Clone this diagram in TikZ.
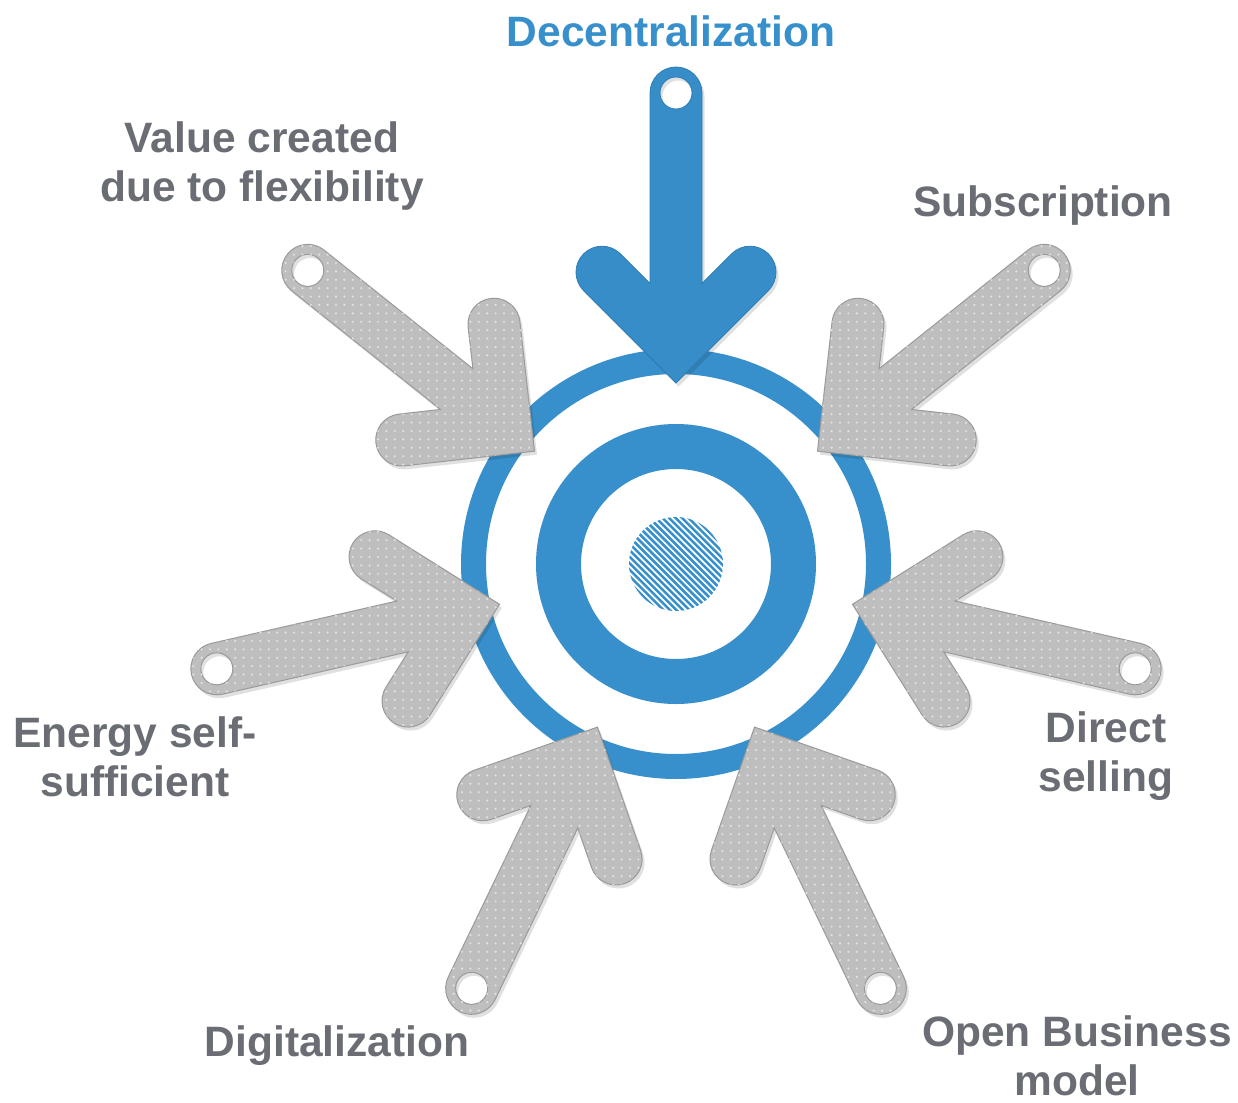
\documentclass[tikz,border=0pt]{standalone}
\usepackage{fontspec}
\setmainfont{Liberation Sans}
\usetikzlibrary{patterns.meta}
\definecolor{ringblue}{HTML}{3790CB}
\definecolor{arrowblue}{HTML}{368DC8}
\definecolor{blueedge}{HTML}{2E7DB5}
\definecolor{arrowgray}{HTML}{BEBEBE}
\definecolor{edgegray}{HTML}{9A9A9A}
\definecolor{dotgray}{HTML}{E2E2E2}
\definecolor{labelgray}{HTML}{6A6D73}
\tikzset{
  % tag-shaped arrow: tip at the origin, tail with a hole 290 units back along +x
  tagarrow/.style={insert path={(0,0) -- (92.4,92.4)
      arc[start angle=135,end angle=-45,radius=26] -- (99.5,26) -- (290,26)
      arc[start angle=90,end angle=-90,radius=26] -- (99.5,-26) -- (129.2,-55.6)
      arc[start angle=45,end angle=-135,radius=26] -- cycle
      (290,0) circle[radius=16]}},
  graytag/.style={fill=arrowgray, draw=edgegray, line width=0.5pt, even odd rule,
      postaction={pattern={Dots[distance=4.2pt,radius=0.6pt]}, pattern color=dotgray}},
  bluetag/.style={fill=arrowblue, draw=blueedge, line width=0.4pt, even odd rule},
  tagshadow/.style={fill=black, fill opacity=0.12, even odd rule},
  lab/.style={font=\fontsize{21.25}{24.5}\selectfont\bfseries, text=labelgray,
      align=center, inner sep=0pt, anchor=north},
}
% one arrow pointing at the centre from direction #1, drawn in style #2
\newcommand\tagat[2]{%
  \begin{scope}[shift={(678.5,-567.5)}, rotate=#1, shift={(181,0)}]
    \path[tagshadow, tagarrow];
  \end{scope}
  \begin{scope}[shift={(676,-564)}, rotate=#1, shift={(181,0)}]
    \path[#2, tagarrow];
  \end{scope}}
\begin{document}
\begin{tikzpicture}[x=0.5pt, y=0.5pt]
  \useasboundingbox (0,0) rectangle (1238,-1103);
  \fill[white] (0,0) rectangle (1238,-1103);
  \coordinate (c) at (676,-564);

  % target rings
  \draw[ringblue, line width=12.5pt] (c) circle[radius=202.5];
  \draw[ringblue, line width=22.5pt] (c) circle[radius=117.5];

  % hatched bullseye
  \begin{scope}
    \clip (c) circle[radius=47];
    \begin{scope}[shift={(c)}, rotate=-45]
      \foreach \k in {-12,...,12}
        \draw[ringblue, line width=1.25pt] (-60,\k*4.6) -- (60,\k*4.6);
    \end{scope}
  \end{scope}

  % arrows, every 360/7 degrees starting from the top
  \foreach \k in {1,...,6} {\pgfmathsetmacro\ang{90+\k*360/7}\tagat{\ang}{graytag}}
  \tagat{90}{bluetag}

  % labels
  \node[lab, text=ringblue] (decentral) at (671,-15) {Decentralization};
  \node[lab] (value) at (262,-121) {Value created\\due to flexibility};
  \node[lab] (subscr) at (1043,-185) {Subscription};
  \node[lab] (energy) at (135,-716) {Energy self-\\sufficient};
  \node[lab] (direct) at (1106,-711) {Direct\\selling};
  \node[lab] (digital) at (337,-1025) {Digitalization};
  \node[lab] (openbm) at (1077,-1015) {Open Business\\model};
\end{tikzpicture}
\end{document}
